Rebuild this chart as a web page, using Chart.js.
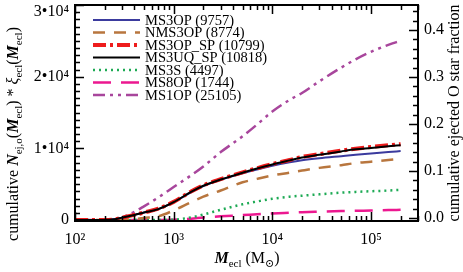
<!DOCTYPE html>
<html>
<head>
<meta charset="utf-8">
<script src="https://cdn.jsdelivr.net/npm/chart.js@4"></script>
<style>
  html, body { margin: 0; padding: 0; background: #fff; }
  canvas { display: block; }
</style>
</head>
<body>
<canvas id="chart" width="463" height="272"></canvas>
<script>
// ─── DATA ───
const masses   = [100, 150, 200, 250, 300, 400, 500, 700, 1000, 1500, 2000, 3000, 5000, 7000, 10000, 15000, 20000, 30000, 50000, 70000, 100000, 150000, 200000];
const ms3op    = [0, 0, 0, 100, 340, 720, 1050, 1530, 2490, 3880, 4740, 5600, 6510, 7040, 7570, 8050, 8330, 8620, 8910, 9100, 9290, 9480, 9630];
const nms3op   = [0, 0, 0, 0, 50, 140, 290, 530, 1340, 2490, 3260, 4120, 5270, 5750, 6230, 6610, 6900, 7280, 7660, 7950, 8140, 8380, 8530];
const ms3opSp  = [0, 0, 0, 100, 340, 720, 1050, 1580, 2540, 3980, 4840, 5700, 6660, 7230, 7810, 8380, 8810, 9200, 9680, 9960, 10200, 10440, 10590];
const ms3uqSp  = [0, 0, 0, 100, 340, 720, 1050, 1530, 2490, 3930, 4790, 5650, 6610, 7190, 7760, 8330, 8720, 9100, 9580, 9870, 10060, 10300, 10440];
const ms3s     = [0, 0, 0, 0, 0, 0, 0, 0, 50, 380, 770, 1440, 2200, 2590, 2970, 3260, 3400, 3590, 3830, 3930, 4020, 4120, 4220];
const ms8op    = [0, 0, 0, 0, 0, 0, 0, 0, 50, 190, 360, 530, 690, 820, 930, 1030, 1100, 1170, 1250, 1290, 1340, 1390, 1430];
const ms1op    = [0, 0, 0, 50, 380, 1150, 1920, 3160, 4600, 6230, 7470, 9480, 11690, 13320, 15140, 16770, 17720, 19350, 21270, 22420, 23470, 24430, 25000];

const seriesLabels = ['MS3OP (9757)', 'NMS3OP (8774)', 'MS3OP_SP (10799)', 'MS3UQ_SP (10818)', 'MS3S (4497)', 'MS8OP (1744)', 'MS1OP (25105)'];

const xTicks  = [100, 1000, 10000, 100000];
const yTicks  = [0, 10000, 20000, 30000];
const y2Ticks = [0, 0.1, 0.2, 0.3, 0.4];

const SERIF = '"Liberation Serif", "DejaVu Serif", serif';
const SUP = { 2: '²', 3: '³', 4: '⁴', 5: '⁵' };
const Y_MAX = 30000;

function pts(vals) {
    return masses.map((m, i) => ({ x: m, y: vals[i] }));
}

function mkSet(label, vals, color, width, dash, order) {
    return {
        label: label,
        data: pts(vals),
        borderColor: color,
        borderWidth: width,
        borderDash: dash,
        pointRadius: 0,
        fill: false,
        cubicInterpolationMode: 'monotone',
        order: order
    };
}

function yLabel(v) {
    return v === 0 ? '0' : (v / 10000) + '•10⁴';
}

// no extra room for labels hanging past the plot edges
function noPad(s) {
    s.paddingTop = 0; s.paddingBottom = 0;
    s.paddingLeft = 0; s.paddingRight = 0;
}

// ─── RICH TEXT (subscripts, italics) ───
function drawRich(ctx, segs, cx, cy, rot) {
    ctx.save();
    ctx.translate(cx, cy);
    if (rot) ctx.rotate(rot);
    ctx.textBaseline = 'alphabetic';
    ctx.textAlign = 'left';
    ctx.fillStyle = '#000';
    let total = 0;
    segs.forEach(s => { ctx.font = s.f; s.w = ctx.measureText(s.t).width; total += s.w; });
    let x = -total / 2;
    segs.forEach(s => {
        ctx.font = s.f;
        ctx.fillText(s.t, x, 5 + (s.dy || 0));
        x += s.w;
    });
    ctx.restore();
}

const N = '16px ' + SERIF;
const BI = 'italic bold 16px ' + SERIF;
const IT = 'italic 16px ' + SERIF;
const SB = '11px ' + SERIF;

// ─── FRAME, INWARD TICKS, LEGEND, TITLES ───
const decorPlugin = {
    id: 'decor',
    afterDatasetsDraw(chart) {
        const ctx = chart.ctx;
        const ca = chart.chartArea;
        const sx = chart.scales.x, sy = chart.scales.y, sy2 = chart.scales.y2;
        ctx.save();
        ctx.strokeStyle = '#000';
        ctx.lineWidth = 2;
        ctx.strokeRect(ca.left, ca.top, ca.right - ca.left, ca.bottom - ca.top);

        ctx.lineWidth = 1.5;
        ctx.beginPath();
        // left axis: minor every 1000
        for (let v = 0; v <= 30000; v += 1000) {
            const y = Math.round(sy.getPixelForValue(v)) + 0.5;
            const len = v % 10000 === 0 ? 9 : 5;
            ctx.moveTo(ca.left, y); ctx.lineTo(ca.left + len, y);
        }
        // right axis: minor every 0.02
        for (let i = 0; i <= 22; i++) {
            const f = i * 0.02;
            if (f > sy2.max) break;
            const y = Math.round(sy2.getPixelForValue(f)) + 0.5;
            const len = i % 5 === 0 ? 9 : 5;
            ctx.moveTo(ca.right, y); ctx.lineTo(ca.right - len, y);
        }
        // bottom and top: log ticks
        for (let d = 2; d <= 5; d++) {
            for (let k = 1; k <= 9; k++) {
                const m = k * Math.pow(10, d);
                if (m > sx.max) continue;
                const x = Math.round(sx.getPixelForValue(m)) + 0.5;
                const len = k === 1 ? 9 : 5;
                ctx.moveTo(x, ca.bottom); ctx.lineTo(x, ca.bottom - len);
                ctx.moveTo(x, ca.top); ctx.lineTo(x, ca.top + len);
            }
        }
        ctx.stroke();
        ctx.restore();
    },
    afterDraw(chart) {
        const ctx = chart.ctx;
        const ca = chart.chartArea;

        // top left label, pushed down so it stays on the canvas
        ctx.save();
        ctx.fillStyle = '#000';
        ctx.font = '16px ' + SERIF;
        ctx.textAlign = 'right';
        ctx.textBaseline = 'middle';
        ctx.fillText(yLabel(Y_MAX), ca.left - 6, 12);
        ctx.restore();

        // legend
        ctx.save();
        const x0 = 93, x1 = 140;
        chart.data.datasets.forEach((ds, i) => {
            const y = 20 + i * 12.5;
            ctx.strokeStyle = ds.borderColor;
            ctx.lineWidth = ds.borderWidth;
            ctx.setLineDash(ds.borderDash || []);
            ctx.beginPath();
            ctx.moveTo(x0, y); ctx.lineTo(x1, y);
            ctx.stroke();
            ctx.setLineDash([]);
            ctx.fillStyle = '#000';
            ctx.font = '14.5px ' + SERIF;
            ctx.textBaseline = 'middle';
            ctx.fillText(ds.label, 145, y + 1);
        });
        ctx.restore();

        // left title
        drawRich(ctx, [
            { t: 'cumulative ', f: N },
            { t: 'N', f: BI },
            { t: 'ej,o', f: SB, dy: 4 },
            { t: '(', f: N },
            { t: 'M', f: BI },
            { t: 'ecl', f: SB, dy: 4 },
            { t: ') * ', f: N },
            { t: 'ξ', f: IT },
            { t: 'ecl', f: SB, dy: 4 },
            { t: '(', f: N },
            { t: 'M', f: BI },
            { t: 'ecl', f: SB, dy: 4 },
            { t: ')', f: N }
        ], 13, 134, -Math.PI / 2);

        // bottom title
        drawRich(ctx, [
            { t: 'M', f: BI },
            { t: 'ecl', f: SB, dy: 4 },
            { t: ' (M', f: N },
            { t: '⊙', f: SB, dy: 4 },
            { t: ')', f: N }
        ], 247, 258, 0);

        // right title
        drawRich(ctx, [
            { t: 'cumulative ejected O star fraction', f: N }
        ], 454, 113, -Math.PI / 2);
    }
};

// ─── CREATE THE CHART ───
const ctx = document.getElementById('chart').getContext('2d');
new Chart(ctx, {
    type: 'line',
    data: {
        datasets: [
            mkSet(seriesLabels[0], ms3op,   '#3b3b9e', 2,   [],                  4),
            mkSet(seriesLabels[1], nms3op,  '#b8763e', 2.5, [12, 9],             5),
            mkSet(seriesLabels[2], ms3opSp, '#ee1c1c', 4,   [13, 4, 3, 4],       3),
            mkSet(seriesLabels[3], ms3uqSp, '#000000', 2,   [],                  2),
            mkSet(seriesLabels[4], ms3s,    '#1eaa55', 2.5, [2, 4],              6),
            mkSet(seriesLabels[5], ms8op,   '#ec1890', 2.5, [18, 10],            7),
            mkSet(seriesLabels[6], ms1op,   '#a8469c', 2.5, [12, 5, 3, 5, 3, 5], 8)
        ]
    },
    options: {
        responsive: false,
        animation: false,
        devicePixelRatio: 1,
        layout: { padding: { top: 5, left: 0, right: 0, bottom: 0 } },
        plugins: {
            legend: { display: false },
            tooltip: { enabled: false }
        },
        scales: {
            x: {
                type: 'logarithmic',
                min: 100,
                max: 300000,
                grid: { display: false, drawTicks: false },
                border: { display: false },
                afterBuildTicks: s => { s.ticks = xTicks.map(v => ({ value: v })); },
                afterFit: s => { s.height = 51; noPad(s); },
                ticks: {
                    padding: 9,
                    color: '#000',
                    font: { family: SERIF, size: 16 },
                    maxRotation: 0,
                    autoSkip: false,
                    callback: v => '10' + SUP[Math.round(Math.log10(v))]
                }
            },
            y: {
                type: 'linear',
                position: 'left',
                min: -130,
                max: Y_MAX,
                grid: { display: false, drawTicks: false },
                border: { display: false },
                afterBuildTicks: s => { s.ticks = yTicks.map(v => ({ value: v })); },
                afterFit: s => { s.width = 75; noPad(s); },
                ticks: {
                    padding: 6,
                    color: '#000',
                    font: { family: SERIF, size: 16 },
                    // the top label is drawn by the plugin
                    callback: v => v === Y_MAX ? '' : yLabel(v)
                }
            },
            y2: {
                type: 'linear',
                position: 'right',
                min: -0.0064,
                max: 0.453,
                grid: { display: false, drawTicks: false },
                border: { display: false },
                afterBuildTicks: s => { s.ticks = y2Ticks.map(v => ({ value: v })); },
                afterFit: s => { s.width = 45; noPad(s); },
                ticks: {
                    padding: 6,
                    color: '#000',
                    font: { family: SERIF, size: 16 },
                    callback: v => v.toFixed(1)
                }
            }
        }
    },
    plugins: [decorPlugin]
});
</script>
</body>
</html>
